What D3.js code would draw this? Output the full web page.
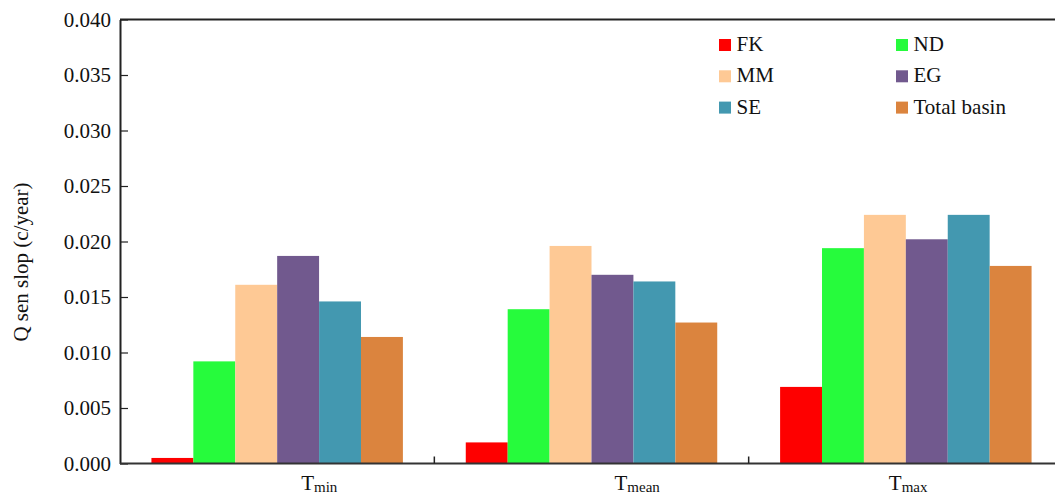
<!DOCTYPE html>
<html>
<head>
<meta charset="utf-8">
<script src="https://cdn.jsdelivr.net/npm/d3@7"></script>
<style>
  html, body { margin: 0; padding: 0; background: #fff; }
  svg { display: block; font-family: "Liberation Serif", "Times New Roman", serif; }
</style>
</head>
<body>
<svg id="chart" width="1055" height="494"></svg>
<script>
// ---- data ----
const categories = ["min", "mean", "max"];          // T subscripts
const seriesNames = ["FK", "ND", "MM", "EG", "SE", "Total basin"];
const FK    = [0.0005, 0.0019, 0.0069];
const ND    = [0.0092, 0.0139, 0.0194];
const MM    = [0.0161, 0.0196, 0.0224];
const EG    = [0.0187, 0.0170, 0.0202];
const SE    = [0.0146, 0.0164, 0.0224];
const Total = [0.0114, 0.0127, 0.0178];
const yTicks = [0, 0.005, 0.010, 0.015, 0.020, 0.025, 0.030, 0.035, 0.040];

// ---- style ----
const colors = ["#fe0000", "#26fb3c", "#fec995", "#71598e", "#4398b0", "#db843e"];
const labelOffsets = [24, 23, -17];
const seriesValues = [FK, ND, MM, EG, SE, Total];

const svg = d3.select("#chart");
const mLeft = 120, mRight = 1063, mTop = 19.5, mBottom = 463.5;

const x0 = d3.scaleBand().domain(categories).range([mLeft, mRight]).padding(0);
const bw = x0.bandwidth();
const x1 = d3.scaleBand().domain(seriesNames).range([bw * 0.1, bw * 0.9]).padding(0);
const y = d3.scaleLinear().domain([0, 0.04]).range([mBottom, mTop]);

// bars
const groups = svg.append("g").selectAll("g")
  .data(categories)
  .join("g")
  .attr("transform", d => `translate(${x0(d)},0)`);

groups.selectAll("rect")
  .data((c, ci) => seriesNames.map((s, si) => ({ s, si, v: seriesValues[si][ci] })))
  .join("rect")
  .attr("x", d => x1(d.s))
  .attr("width", x1.bandwidth())
  .attr("y", d => y(d.v))
  .attr("height", d => y(0) - y(d.v))
  .attr("fill", d => colors[d.si]);

// top frame line
svg.append("line")
  .attr("x1", mLeft).attr("x2", mRight)
  .attr("y1", y(0.04)).attr("y2", y(0.04))
  .attr("stroke", "#222").attr("stroke-width", 2);

// y axis
const yAxis = d3.axisLeft(y)
  .tickValues(yTicks)
  .tickFormat(d3.format(".3f"))
  .tickSizeInner(-8)
  .tickSizeOuter(0)
  .tickPadding(9);
const gy = svg.append("g").attr("transform", `translate(${mLeft},0)`).call(yAxis);
gy.select(".domain").attr("stroke", "#222").attr("stroke-width", 2);
gy.selectAll(".tick line").attr("stroke", "#222").attr("stroke-width", 1.2);
gy.selectAll(".tick text")
  .attr("font-size", 21)
  .attr("font-family", "Liberation Serif, Times New Roman, serif")
  .attr("fill", "#111");

// x axis line
svg.append("line")
  .attr("x1", mLeft).attr("x2", mRight)
  .attr("y1", y(0)).attr("y2", y(0))
  .attr("stroke", "#333").attr("stroke-width", 2);

// group boundary ticks (inward)
svg.append("g").selectAll("line")
  .data(categories.slice(0, -1))
  .join("line")
  .attr("x1", d => x0(d) + bw).attr("x2", d => x0(d) + bw)
  .attr("y1", y(0)).attr("y2", y(0) - 7)
  .attr("stroke", "#222").attr("stroke-width", 1.5);

// x labels: T with subscript
const xl = svg.append("g").selectAll("text")
  .data(categories)
  .join("text")
  .attr("x", (d, i) => x0(d) + bw / 2 + labelOffsets[i])
  .attr("y", 490)
  .attr("fill", "#111");
xl.append("tspan").attr("font-size", 21).text("T");
xl.append("tspan").attr("font-size", 15).attr("dy", 2).text(d => d);

// y axis title
svg.append("text")
  .attr("transform", "translate(28,262) rotate(-90)")
  .attr("text-anchor", "middle")
  .attr("font-size", 21)
  .attr("fill", "#111")
  .text("Q sen slop (c/year)");

// legend
const legendCols = [719, 896];
const legendRow0 = 39, legendRowStep = 31.3, sq = 12;
const legend = svg.append("g").selectAll("g")
  .data(seriesNames)
  .join("g")
  .attr("transform", (d, i) => `translate(${legendCols[i % 2]},${legendRow0 + Math.floor(i / 2) * legendRowStep})`);
legend.append("rect")
  .attr("width", sq).attr("height", sq)
  .attr("fill", (d, i) => colors[i]);
legend.append("text")
  .attr("x", 17.5).attr("y", sq)
  .attr("font-size", 21)
  .attr("fill", "#111")
  .text(d => d);
</script>
</body>
</html>
